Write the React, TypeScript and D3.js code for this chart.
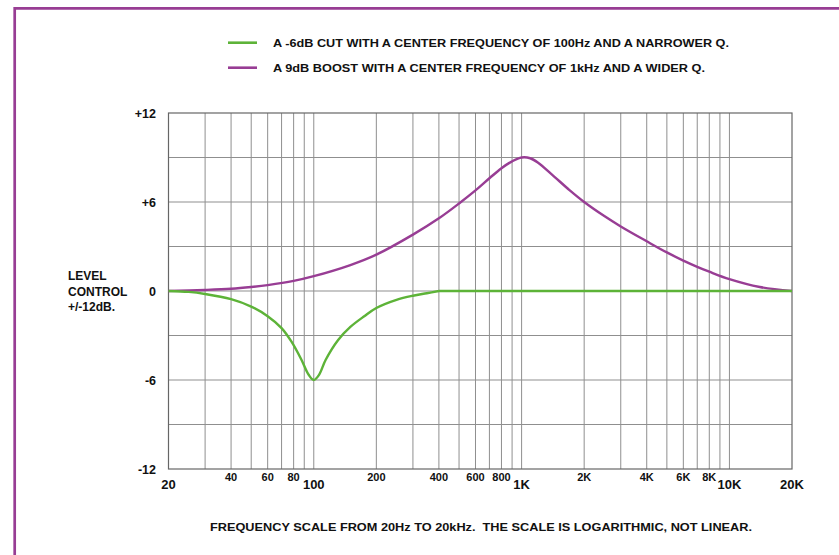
import React from 'react';
import * as d3 from 'd3';

// Green curve: -6dB cut at 100Hz, narrow Q (flat at 0 from 400Hz upward)
const cutFreq = [20, 25, 30, 40, 50, 60, 70, 78, 87, 94.5, 100, 106, 114, 131, 150, 175, 200, 250, 300, 350, 400];
const cutDb = [0, -0.06, -0.2, -0.55, -1.05, -1.7, -2.5, -3.4, -4.6, -5.65, -6.0, -5.65, -4.65, -3.3, -2.42, -1.7, -1.15, -0.6, -0.32, -0.15, 0];
const flatFreq = [400, 20000];
const flatDb = [0, 0];

// Purple curve: +9dB boost at 1kHz, wide Q
const boostFreq = [20, 30, 40, 50, 60, 80, 100, 150, 200, 300, 400, 500, 600, 700, 800, 900, 1000, 1100, 1200, 1400, 1700, 2000, 2500, 3000, 4000, 5000, 6000, 7000, 8000, 10000, 14000, 20000];
const boostDb = [0, 0.07, 0.15, 0.27, 0.4, 0.68, 1.0, 1.75, 2.45, 3.8, 4.9, 5.9, 6.78, 7.6, 8.28, 8.74, 9.0, 8.95, 8.65, 7.85, 6.8, 6.0, 5.05, 4.35, 3.35, 2.6, 2.05, 1.63, 1.3, 0.8, 0.27, 0];

const yTicks = [12, 6, 0, -6, -12];
const yTickLabels = ['+12', '+6', '0', '-6', '-12'];
const yGrid = [-9, -6, -3, 0, 3, 6, 9];

const minorTickFreqs = [40, 60, 80, 200, 400, 600, 800, 2000, 4000, 6000, 8000];
const minorTickLabels = ['40', '60', '80', '200', '400', '600', '800', '2K', '4K', '6K', '8K'];
const majorTickFreqs = [20, 100, 1000, 10000, 20000];
const majorTickLabels = ['20', '100', '1K', '10K', '20K'];

const gridFreqs = [30, 40, 50, 60, 70, 80, 90, 100, 200, 300, 400, 500, 600, 700, 800, 900, 1000, 2000, 3000, 4000, 5000, 6000, 7000, 8000, 9000, 10000];

const legendLabels = [
  'A -6dB CUT WITH A CENTER FREQUENCY OF 100Hz AND A NARROWER Q.',
  'A 9dB BOOST WITH A CENTER FREQUENCY OF 1kHz AND A WIDER Q.',
];
const caption = 'FREQUENCY SCALE FROM 20Hz TO 20kHz.  THE SCALE IS LOGARITHMIC, NOT LINEAR.';
const yTitle = ['LEVEL', 'CONTROL', '+/-12dB.'];

const GREEN = '#5db338';
const PURPLE = '#983d94';
const FONT = "'Liberation Sans', Arial, Helvetica, sans-serif";

export default function App() {
  const W = 839, H = 555;
  const left = 168.5, right = 792, top = 113, bottom = 469;
  const x = d3.scaleLog().domain([20, 20000]).range([left, right]);
  const y = d3.scaleLinear().domain([-12, 12]).range([bottom, top]);

  const line = d3.line<[number, number]>()
    .x(d => x(d[0]))
    .y(d => y(d[1]))
    .curve(d3.curveCatmullRom.alpha(0.5));

  const pairs = (fs: number[], vs: number[]) => fs.map((f, i) => [f, vs[i]] as [number, number]);
  const cutPath = (line(pairs(cutFreq, cutDb)) || '') + (line(pairs(flatFreq, flatDb)) || '');
  const boostPath = line(pairs(boostFreq, boostDb)) || '';

  return (
    <svg width={W} height={H} style={{ position: 'absolute', left: 0, top: 0, background: '#fff' }}
      fontFamily={FONT} fontWeight="bold">
      <rect x={0} y={0} width={W} height={H} fill="#fff" />
      {/* frame */}
      <path d={`M14.7,${H + 10} V8.3 H${W + 10}`} fill="none" stroke={PURPLE} strokeWidth={2.7} />

      {/* legend */}
      {legendLabels.map((t, i) => (
        <g key={i}>
          <line x1={228} x2={257} y1={42.7 + i * 25} y2={42.7 + i * 25}
            stroke={i === 0 ? GREEN : PURPLE} strokeWidth={2.6} />
          <text x={273} y={42.7 + i * 25} dy="0.36em" fontSize={11} fill="#111"
            textLength={i === 0 ? 456 : 432} lengthAdjust="spacingAndGlyphs">{t}</text>
        </g>
      ))}

      {/* grid */}
      {gridFreqs.map(f => (
        <line key={'gx' + f} x1={x(f)} x2={x(f)} y1={top} y2={bottom} stroke="#8f8f8f" strokeWidth={1} />
      ))}
      {yGrid.map(v => (
        <line key={'gy' + v} x1={left} x2={right} y1={y(v)} y2={y(v)} stroke="#8f8f8f" strokeWidth={1} />
      ))}
      <rect x={left} y={top} width={right - left} height={bottom - top} fill="none" stroke="#666" strokeWidth={1.2} />

      {/* curves */}
      <path d={boostPath} fill="none" stroke={PURPLE} strokeWidth={2.4} />
      <path d={cutPath} fill="none" stroke={GREEN} strokeWidth={2.4} strokeLinejoin="round" />

      {/* y ticks */}
      {yTicks.map((v, i) => (
        <text key={'yt' + v} x={156} y={y(v)} dy="0.36em" textAnchor="end" fontSize={12.5} fill="#111">{yTickLabels[i]}</text>
      ))}
      {yTitle.map((t, i) => (
        <text key={'ttl' + i} x={68} y={275.7 + i * 15.5} dy="0.36em" fontSize={12} fill="#111">{t}</text>
      ))}

      {/* x ticks */}
      {minorTickFreqs.map((f, i) => (
        <text key={'mx' + f} x={x(f)} y={477} dy="0.36em" textAnchor="middle" fontSize={11} fill="#111">{minorTickLabels[i]}</text>
      ))}
      {majorTickFreqs.map((f, i) => (
        <text key={'Mx' + f} x={x(f)} y={484.5} dy="0.36em" textAnchor="middle" fontSize={13} fill="#111">{majorTickLabels[i]}</text>
      ))}

      {/* caption */}
      <text x={210} y={527} dy="0.36em" fontSize={11} fill="#111" textLength={542}
        lengthAdjust="spacingAndGlyphs" style={{ whiteSpace: 'pre' }}>{caption}</text>
    </svg>
  );
}
